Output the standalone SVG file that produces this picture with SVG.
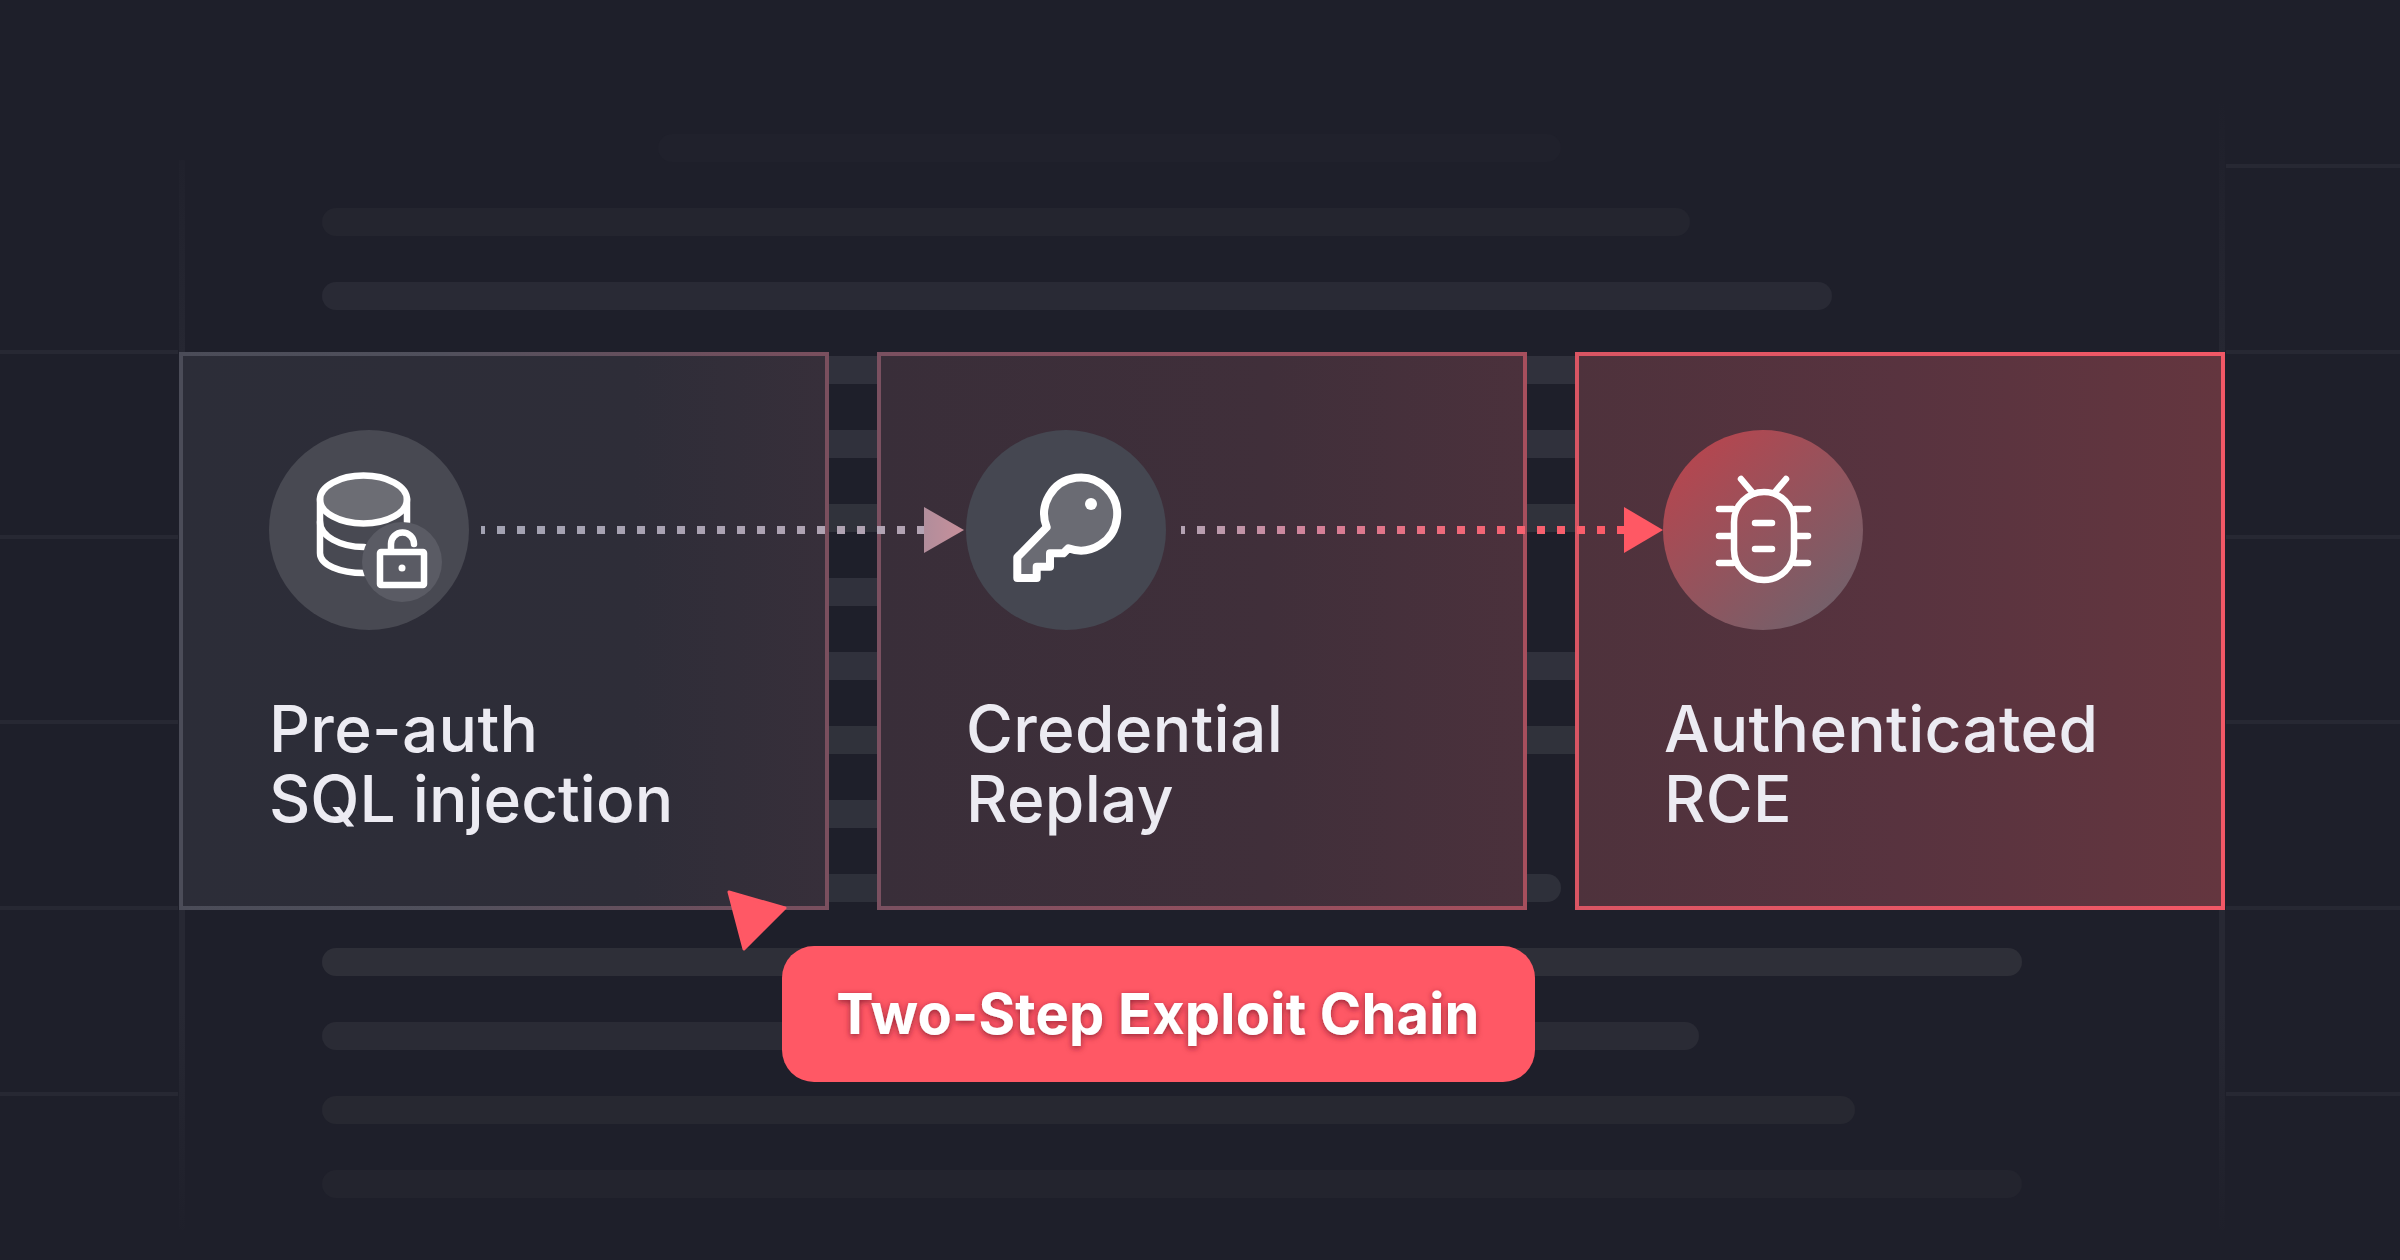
<svg xmlns="http://www.w3.org/2000/svg" width="2400" height="1260" viewBox="0 0 2400 1260">
<defs>
<style>
.bar{fill:#2d2e39}
.grid{stroke:#272833;stroke-width:4;fill:none}
.lbl{font-family:"Inter","Liberation Sans",sans-serif;font-size:64px;font-weight:450;letter-spacing:.3px;fill:#ecebf2}
.ico{fill:none;stroke:#fff;stroke-width:6.500;stroke-linecap:round;stroke-linejoin:round}
.dash{fill:none;stroke-width:8;stroke-dasharray:8 12;stroke-dashoffset:4}
</style>
<linearGradient id="f1" gradientUnits="userSpaceOnUse" x1="181" y1="630" x2="827" y2="630"><stop offset="0" stop-color="#2c2d38"/><stop offset=".7" stop-color="#2e2d38"/><stop offset="1" stop-color="#372f3a"/></linearGradient>
<linearGradient id="f2" gradientUnits="userSpaceOnUse" x1="879" y1="630" x2="1525" y2="630"><stop offset="0" stop-color="#392e39"/><stop offset=".6" stop-color="#402f3a"/><stop offset="1" stop-color="#4b313c"/></linearGradient>
<linearGradient id="f3" gradientUnits="userSpaceOnUse" x1="1577" y1="630" x2="2223" y2="630"><stop offset="0" stop-color="#4e323c"/><stop offset=".5" stop-color="#58333f"/><stop offset="1" stop-color="#64363f"/></linearGradient>
<linearGradient id="s1" gradientUnits="userSpaceOnUse" x1="181" y1="630" x2="827" y2="630"><stop offset="0" stop-color="#4b4c58"/><stop offset=".4" stop-color="#50505c"/><stop offset="1" stop-color="#7a4f5e"/></linearGradient>
<linearGradient id="s2" gradientUnits="userSpaceOnUse" x1="879" y1="630" x2="1525" y2="630"><stop offset="0" stop-color="#7a5060"/><stop offset="1" stop-color="#a64f5d"/></linearGradient>
<linearGradient id="s3" gradientUnits="userSpaceOnUse" x1="1577" y1="630" x2="2223" y2="630"><stop offset="0" stop-color="#d95563"/><stop offset="1" stop-color="#f25866"/></linearGradient>
<linearGradient id="d1" gradientUnits="userSpaceOnUse" x1="481" y1="530" x2="924" y2="530"><stop offset="0" stop-color="#a2a2b2"/><stop offset="1" stop-color="#b3a3b3"/></linearGradient>
<linearGradient id="a1" gradientUnits="userSpaceOnUse" x1="924" y1="530" x2="964" y2="530"><stop offset="0" stop-color="#b18d9b"/><stop offset="1" stop-color="#c8909b"/></linearGradient>
<linearGradient id="d2" gradientUnits="userSpaceOnUse" x1="1181" y1="530" x2="1640" y2="530"><stop offset="0" stop-color="#b3a3b3"/><stop offset=".3" stop-color="#d48098"/><stop offset=".6" stop-color="#f06878"/><stop offset="1" stop-color="#ff5864"/></linearGradient>
<linearGradient id="c3" gradientUnits="userSpaceOnUse" x1="1690" y1="450" x2="1830" y2="610"><stop offset="0" stop-color="#b5464f"/><stop offset="1" stop-color="#74606a"/></linearGradient>
<linearGradient id="fadeL" gradientUnits="userSpaceOnUse" x1="0" y1="100" x2="0" y2="1240"><stop offset="0" stop-color="#272833" stop-opacity="0"/><stop offset=".25" stop-color="#272833"/><stop offset=".8" stop-color="#272833"/><stop offset="1" stop-color="#272833" stop-opacity="0"/></linearGradient>
<filter id="ts" x="-5%" y="-20%" width="110%" height="140%"><feDropShadow dx="0" dy="2" stdDeviation="3" flood-color="#7a1f2a" flood-opacity=".8"/></filter>
</defs>
<rect id="background" width="2400" height="1260" fill="#1e1f2a"/>
<g id="backdrop">
<rect x="179" y="160" width="6" height="1070" fill="url(#fadeL)"/>
<rect x="2219" y="90" width="6" height="1140" fill="url(#fadeL)"/>
<path class="grid" d="M0 352H178M0 537H178M0 722H178M0 908H178M0 1094H178M2226 166H2400M2226 352H2400M2226 537H2400M2226 722H2400M2226 908H2400M2226 1094H2400"/>
<rect x="658" y="134" width="903" height="28" rx="14" fill="#20212c"/>
<rect x="322" y="208" width="1368" height="28" rx="14" fill="#24252f"/>
<rect x="322" y="282" width="1510" height="28" rx="14" fill="#292a35"/>
<rect x="322" y="356" width="1800" height="28" rx="14" fill="#30313c"/>
<rect x="322" y="430" width="1800" height="28" rx="14" fill="#30313c"/>
<rect x="322" y="504" width="1800" height="28" rx="14" fill="#30323b"/>
<rect x="322" y="578" width="1100" height="28" rx="14" fill="#30313c"/>
<rect x="322" y="652" width="1800" height="28" rx="14" fill="#30313c"/>
<rect x="322" y="726" width="1800" height="28" rx="14" fill="#30323b"/>
<rect x="322" y="800" width="1100" height="28" rx="14" fill="#30323c"/>
<rect x="322" y="874" width="1239" height="28" rx="14" fill="#2e303a"/>
<rect x="322" y="948" width="1700" height="28" rx="14" fill="#2e2f38"/>
<rect x="322" y="1022" width="1377" height="28" rx="14" fill="#2a2b35"/>
<rect x="322" y="1096" width="1533" height="28" rx="14" fill="#272831"/>
<rect x="322" y="1170" width="1700" height="28" rx="14" fill="#23242e"/>
</g>
<g id="card-1">
<rect x="181" y="354" width="646" height="554" fill="url(#f1)" stroke="url(#s1)" stroke-width="4"/>
<circle cx="369" cy="530" r="100" fill="#484952"/>
<g class="ico">
<path d="M320 499V553C320 565 340 573 364 573"/>
<path d="M320 522C320 536 340 547 364 547"/>
<path d="M407 499V522"/>
<ellipse cx="363.500" cy="499.500" rx="43.500" ry="24" fill="#fff" fill-opacity=".2"/>
</g>
<circle cx="402" cy="562" r="40" fill="#5a5b64"/>
<g class="ico">
<rect x="380" y="552" width="44" height="33" rx="1"/>
<path d="M391 550V544A11.500 11.500 0 0 1 414 544"/>
</g>
<circle cx="402" cy="568" r="3.500" fill="#fff"/>
<text class="lbl" x="269" y="752">Pre-auth</text>
<text class="lbl" x="269" y="822" style="letter-spacing:0">SQL injection</text>
</g>
<g id="card-2">
<rect x="879" y="354" width="646" height="554" fill="url(#f2)" stroke="url(#s2)" stroke-width="4"/>
<text class="lbl" x="966" y="752">Credential</text>
<text class="lbl" x="966" y="822">Replay</text>
</g>
<g id="card-3">
<rect x="1577" y="354" width="646" height="554" fill="url(#f3)" stroke="url(#s3)" stroke-width="4"/>
<text class="lbl" x="1664" y="752">Authenticated</text>
<text class="lbl" x="1664" y="822">RCE</text>
</g>
<g id="connectors">
<path class="dash" stroke="url(#d1)" d="M481 530H924"/>
<path d="M924 507L964 530L924 553Z" fill="url(#a1)"/>
<path class="dash" stroke="url(#d2)" d="M1181 530H1624"/>
<path d="M1624 507L1663 530L1624 553Z" fill="#ff5864"/>
</g>
<g id="icon-key">
<circle cx="1066" cy="530" r="100" fill="#454751"/>
<path d="M1046.700 527.300L1017.300 557.300V578H1036.700V566.700H1050V553.300H1063.300L1068.300 548.300A36.500 36.500 0 1 0 1046.700 527.300Z" fill="#fff" fill-opacity=".2" stroke="#fff" stroke-width="8" stroke-linejoin="round"/>
<circle cx="1091" cy="504" r="6" fill="#fff"/>
</g>
<g id="icon-bug">
<circle cx="1763" cy="530" r="100" fill="url(#c3)"/>
<g class="ico">
<rect x="1734" y="492" width="60" height="88" rx="30"/>
<path d="M1719 509H1733M1719 536H1733M1719 563H1733M1795 509H1808M1795 536H1808M1795 563H1808M1741 479L1752 492M1786 479L1775 492M1755 523H1772M1755 549H1772"/>
</g>
</g>
<g id="callout">
<path d="M729 892L785 908L744 949Z" fill="#ff5865" stroke="#ff5865" stroke-width="3" stroke-linejoin="round"/>
<rect x="782" y="946" width="753" height="136" rx="32" fill="#ff5865"/>
<text x="1158" y="1034" text-anchor="middle" font-family="Inter,'Liberation Sans',sans-serif" font-size="56" font-weight="700" letter-spacing=".2" fill="#fff" filter="url(#ts)">Two-Step Exploit Chain</text>
</g>
</svg>
